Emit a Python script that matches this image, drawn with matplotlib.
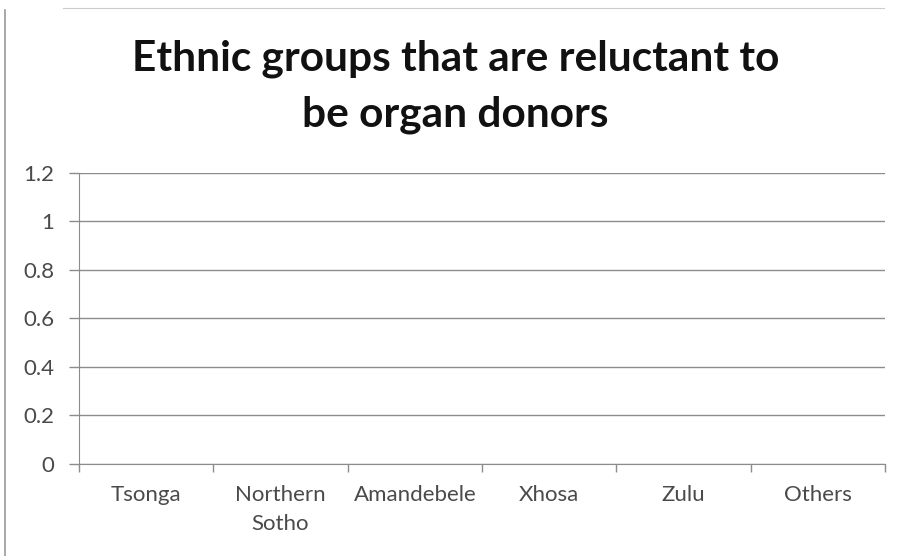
import matplotlib.pyplot as plt
from matplotlib.lines import Line2D
import numpy as np

plt.rcParams['font.family'] = ['Lato', 'DejaVu Sans']

# Данные диаграммы (в оригинале столбцы пустые)
groups = ["Tsonga", "Northern\nSotho", "Amandebele", "Xhosa", "Zulu", "Others"]
values = [0, 0, 0, 0, 0, 0]
y_ticks = [0, 0.2, 0.4, 0.6, 0.8, 1, 1.2]
y_labels = ["0", "0.2", "0.4", "0.6", "0.8", "1", "1.2"]
title_lines = ["Ethnic groups that are reluctant to", "be organ donors"]

grey = "#8c8c8c"
text_col = "#4a4a4a"

fig = plt.figure(figsize=(9.02, 5.56), dpi=100)
ax = fig.add_axes([0.0876, 0.1655, 0.8935, 0.5235])

x = np.arange(len(groups))
ax.bar(x, values, width=0.6, color="#4f81bd")

ax.set_xlim(-0.5, len(groups) - 0.5)
ax.set_ylim(0, 1.2)

# сетка
for yv in y_ticks:
    ax.axhline(yv, color=grey, lw=1, zorder=0)

ax.set_yticks(y_ticks)
ax.set_yticklabels(y_labels)
ax.set_xticks(x)
ax.set_xticklabels(groups, linespacing=1.55)
ax.set_xticks(np.arange(-0.5, len(groups)), minor=True)

ax.tick_params(axis="y", length=7, width=1, color=grey, pad=11,
               labelsize=16, labelcolor=text_col)
ax.tick_params(axis="x", which="major", length=0, pad=15,
               labelsize=16, labelcolor=text_col)
ax.tick_params(axis="x", which="minor", length=6, width=1, color=grey)

for s in ["top", "right"]:
    ax.spines[s].set_visible(False)
ax.spines["left"].set_color(grey)
ax.spines["bottom"].set_color(grey)

# заголовок - две строки, по базовым линиям
for line, yb in zip(title_lines, [1 - 70 / 556, 1 - 127 / 556]):
    fig.text(0.505, yb, line, ha="center", va="baseline", fontsize=30.5,
             fontweight="bold", color="#111111")

# рамка слева и сверху
fig.add_artist(Line2D([0.006, 0.006], [0.0, 0.982], transform=fig.transFigure,
                      color="#999999", lw=1.2))
fig.add_artist(Line2D([0.07, 0.98], [0.986, 0.986], transform=fig.transFigure,
                      color="#cccccc", lw=0.8))

fig.savefig("out.png", dpi=100)
